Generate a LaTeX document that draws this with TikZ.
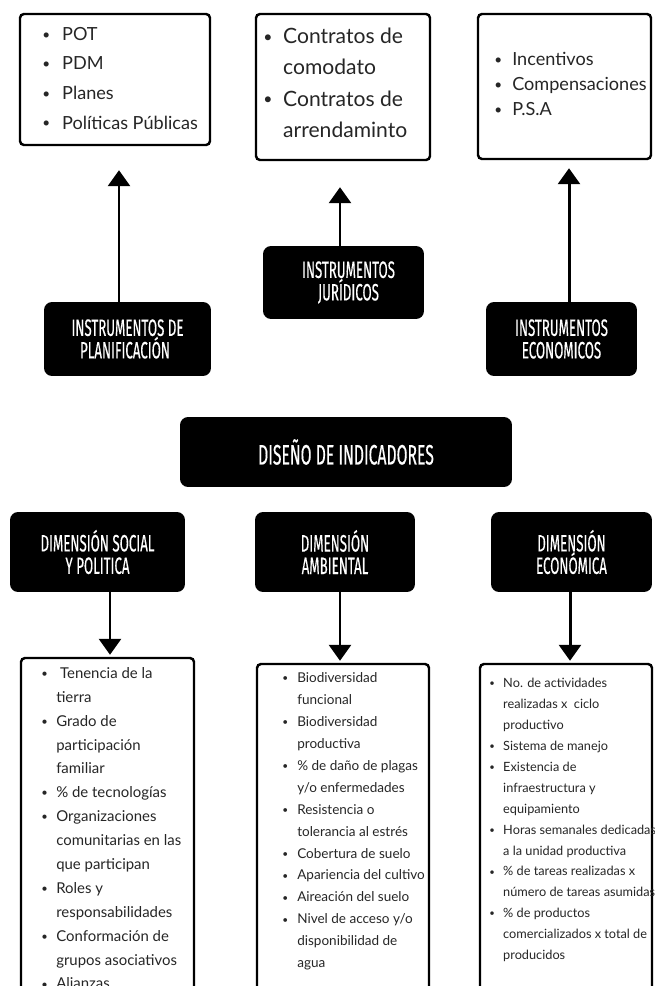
\documentclass[tikz,border=0pt]{standalone}
\usepackage{fontspec}
\usepackage{graphicx}
\setmainfont{Lato}
\newfontfamily\headfont[FakeStretch=0.56,FakeBold=0.3]{Fira Sans}
\usepackage{tikz}
\usetikzlibrary{arrows.meta,positioning,fit}
\newlength\bulw
\newcommand\itm{\makebox[\bulw][l]{\raisebox{0.12ex}{\scalebox{0.75}{\textbullet}}}}
\newcommand\cnt{\hspace*{\bulw}}

\begin{document}
\begin{tikzpicture}
		[x=0.02cm,y=-0.02cm,
		wbox/.style={draw,line width=1.4pt,rounded corners=0.08cm,inner sep=0pt},
		bbox/.style={fill=black,rounded corners=0.16cm,inner sep=0pt,text=white,align=center,
			font=\headfont\fontsize{13.5}{12.8}\selectfont},
		lst/.style={anchor=north west,inner sep=0pt,align=left,text=black!85},
		arr/.style={line width=1.7pt,-{Triangle[width=0.44cm,length=0.32cm]}}]
		\useasboundingbox (0,0) rectangle (655,986);
		\fill[white] (0,0) rectangle (655,986);

		\node[wbox,fit={(20,14) (210,145)}] (pot) {};
		\node[wbox,fit={(256,14) (430,160)}] (contr) {};
		\node[wbox,fit={(478,14) (651,159)}] (incent) {};

		\node[bbox,minimum width=3.34cm,minimum height=1.48cm] (plan) at (127.5,339)
			{INSTRUMENTOS DE\\PLANIFICACIÓN\hspace*{0.1cm}};
		\node[bbox,minimum width=3.22cm,minimum height=1.46cm] (jur) at (343.5,282.5)
			{\hspace*{0.2cm}INSTRUMENTOS\\\hspace*{0.2cm}JURÍDICOS};
		\node[bbox,minimum width=3.02cm,minimum height=1.48cm] (econ) at (561.5,339)
			{INSTRUMENTOS\\ECONOMICOS};

		\node[bbox,minimum width=6.64cm,minimum height=1.4cm,font=\headfont\fontsize{16}{16}\selectfont] (dis) at (346,452)
			{DISEÑO DE INDICADORES};

		\node[bbox,minimum width=3.5cm,minimum height=1.6cm] (social) at (97.5,552) {DIMENSIÓN SOCIAL\\Y POLITICA};
		\node[bbox,minimum width=3.2cm,minimum height=1.6cm] (amb) at (335,552) {DIMENSIÓN\\AMBIENTAL};
		\node[bbox,minimum width=3.22cm,minimum height=1.6cm] (eco) at (571.5,552) {DIMENSIÓN\\ECONÓMICA};

		\node[wbox,fit={(21,658) (194,1100)}] (lsoc) {};
		\node[wbox,fit={(257,664) (429,1100)}] (lamb) {};
		\node[wbox,fit={(480,664) (652,1100)}] (leco) {};

		\node[lst,font=\fontsize{10.3}{16.8}\selectfont\setlength\bulw{11.3pt}] (potlist) at (42,27)
			{\itm POT\\ \itm PDM\\ \itm Planes\\ \itm Políticas Públicas};
		\node[lst,font=\fontsize{12}{17.7}\selectfont\setlength\bulw{11.3pt}] (contrlist) at (263,28)
			{\itm Contratos de\\ \cnt comodato\\ \itm Contratos de\\ \cnt arrendaminto};
		\node[lst,font=\fontsize{10.3}{14.2}\selectfont\setlength\bulw{10.2pt}] (incentlist) at (494,52)
			{\itm Incentivos\\ \itm Compensaciones\\ \itm P.S.A};

		\node[lst,font=\fontsize{8.5}{13.6}\selectfont\setlength\bulw{8.5pt}] (soclist) at (41,667)
			{\itm\ Tenencia de la\\ \cnt tierra\\
			\itm Grado de\\ \cnt participación\\ \cnt familiar\\
			\itm \% de tecnologías\\
			\itm Organizaciones\\ \cnt comunitarias en las\\ \cnt que participan\\
			\itm Roles y\\ \cnt responsabilidades\\
			\itm Conformación de\\ \cnt grupos asociativos\\
			\itm Alianzas};
		\node[lst,font=\fontsize{7.7}{12.5}\selectfont\setlength\bulw{8.5pt}] (amblist) at (282,672)
			{\itm Biodiversidad\\ \cnt funcional\\
			\itm Biodiversidad\\ \cnt productiva\\
			\itm \% de daño de plagas\\ \cnt y/o enfermedades\\
			\itm Resistencia o\\ \cnt tolerancia al estrés\\
			\itm Cobertura de suelo\\
			\itm Apariencia del cultivo\\
			\itm Aireación del suelo\\
			\itm Nivel de acceso y/o\\ \cnt disponibilidad de\\ \cnt agua};
		\node[lst,font=\fontsize{7.25}{11.9}\selectfont\setlength\bulw{7.9pt}] (ecolist) at (489,678)
			{\itm No. de actividades\\ \cnt realizadas x~ ciclo\\ \cnt productivo\\
			\itm Sistema de manejo\\
			\itm Existencia de\\ \cnt infraestructura y\\ \cnt equipamiento\\
			\itm Horas semanales dedicadas\\ \cnt a la unidad productiva\\
			\itm \% de tareas realizadas x\\ \cnt número de tareas asumidas\\
			\itm \% de productos\\ \cnt comercializados x total de\\ \cnt producidos};

		\draw[arr,shorten >=0.48cm] ([xshift=-0.17cm]plan.north) -- ([xshift=-0.17cm]plan.north |- pot.south);
		\draw[arr,shorten >=0.52cm] ([xshift=-0.07cm]jur.north) -- ([xshift=-0.07cm]jur.north |- contr.south);
		\draw[arr,shorten >=0.16cm] ([xshift=0.15cm]econ.north) -- ([xshift=0.15cm]econ.north |- incent.south);

		\draw[arr,shorten >=0.04cm] ([xshift=0.25cm]social.south) -- ([xshift=0.25cm]social.south |- lsoc.north);
		\draw[arr,shorten >=0.04cm] ([xshift=0.1cm]amb.south) -- ([xshift=0.1cm]amb.south |- lamb.north);
		\draw[arr,shorten >=0.04cm] ([xshift=-0.03cm]eco.south) -- ([xshift=-0.03cm]eco.south |- leco.north);
\end{tikzpicture}
\end{document}
